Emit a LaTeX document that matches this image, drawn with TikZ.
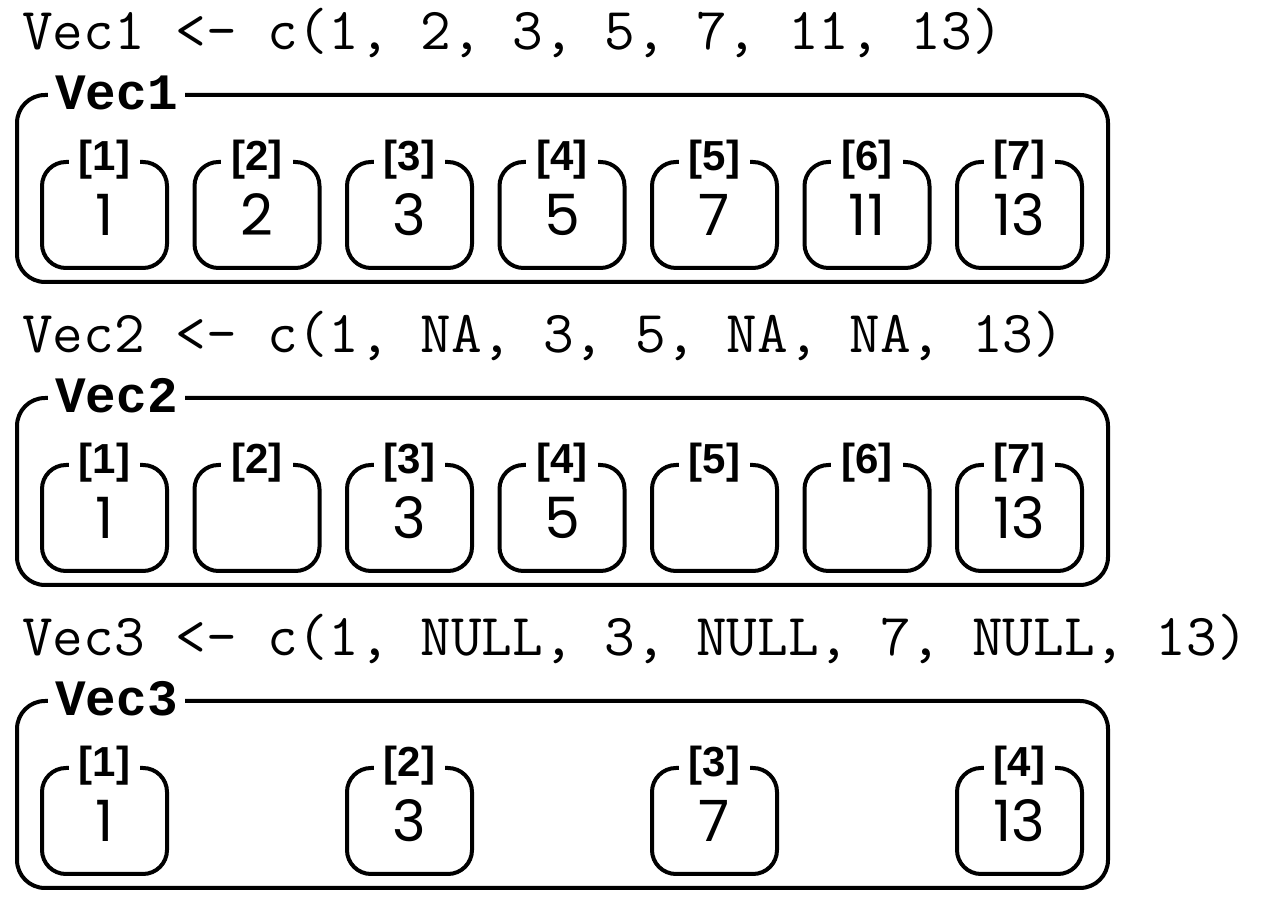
\documentclass[tikz,border=0pt]{standalone}
\usepackage{fontspec}
\newfontfamily\codefont{Liberation Mono}
\newfontfamily\valfont{Poppins}
\newfontfamily\idxfont{Liberation Sans}
\tikzset{
	vecbox/.style={draw, line width=4pt, rounded corners=28pt, minimum width=1091pt, minimum height=187pt, inner sep=0pt},
	vecname/.style={fill=white, anchor=west, inner xsep=7pt, inner ysep=0pt, font=\codefont\bfseries\fontsize{51}{55}\selectfont},
	cellbox/.style={draw, line width=4pt, rounded corners=24pt, minimum width=125pt, minimum height=106pt, inner sep=0pt, font=\valfont\fontsize{57}{60}\selectfont},
	cellidx/.style={fill=white, inner xsep=10pt, inner ysep=0pt, font=\idxfont\bfseries\fontsize{42}{46}\selectfont},
	codeline/.style={anchor=base west, inner sep=0pt, font=\ttfamily\fontsize{59.5}{62}\selectfont}
}
\begin{document}
\begin{tikzpicture}[x=1pt, y=1pt]
		\useasboundingbox ( 0, 0 ) rectangle ( 1272, 905 );

		% вектор Vec1
		\node [codeline] (code1) at ( 22, 855 ) {Vec1 <- c(1, 2, 3, 5, 7, 11, 13)};
		\node [vecbox] (vec1) at ( 562.5, 716.5 ) {};
		\node [vecname] (vec1-name) at ([xshift=33pt]vec1.north west) {Vec1};
		\foreach \val [count=\i] in {1, 2, 3, 5, 7, 11, 13} {
			\node [cellbox] (a\i) at ( {104.5 + 152.5*(\i-1)}, 690 ) {\val};
			\node [cellidx] (a\i-idx) at (a\i.north) {[\i]};
		}

		% вектор Vec2
		\node [codeline] (code2) at ( 22, 552 ) {Vec2 <- c(1, NA, 3, 5, NA, NA, 13)};
		\node [vecbox] (vec2) at ( 562.5, 413.5 ) {};
		\node [vecname] (vec2-name) at ([xshift=33pt]vec2.north west) {Vec2};
		\foreach \val [count=\i] in {1, {}, 3, 5, {}, {}, 13} {
			\node [cellbox] (b\i) at ( {104.5 + 152.5*(\i-1)}, 387 ) {\val};
			\node [cellidx] (b\i-idx) at (b\i.north) {[\i]};
		}

		% вектор Vec3
		\node [codeline] (code3) at ( 22, 249 ) {Vec3 <- c(1, NULL, 3, NULL, 7, NULL, 13)};
		\node [vecbox] (vec3) at ( 562.5, 110.5 ) {};
		\node [vecname] (vec3-name) at ([xshift=33pt]vec3.north west) {Vec3};
		\foreach \val/\pos [count=\i] in {1/0, 3/2, 7/4, 13/6} {
			\node [cellbox] (c\i) at ( {104.5 + 152.5*\pos}, 84 ) {\val};
			\node [cellidx] (c\i-idx) at (c\i.north) {[\i]};
		}
	\end{tikzpicture}
\end{document}
